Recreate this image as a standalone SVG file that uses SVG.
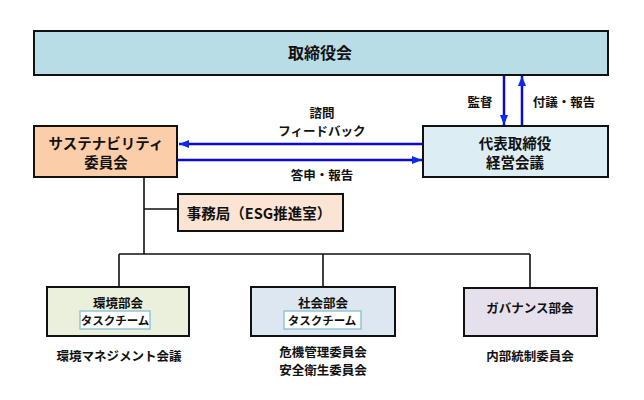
<svg xmlns="http://www.w3.org/2000/svg" width="644" height="400" viewBox="0 0 644 400">
<style>
text{font-family:"Noto Sans CJK JP","Noto Sans",sans-serif;font-weight:bold;fill:#111;text-anchor:middle;dominant-baseline:central}
.box{stroke:#111;stroke-width:2}
.t16{font-size:16px}
.t14{font-size:14.5px}
.t12{font-size:12.5px}
.t11{font-size:11.5px}
.arr{stroke:#0a0ad0;stroke-width:2.5;fill:none}
.tree{stroke:#111;stroke-width:1.6;fill:none}
.task{fill:#fff;stroke:#92c4d6;stroke-width:1.5}
</style>
<defs>
<marker id="ah" viewBox="0 0 10 8" refX="10" refY="4" markerWidth="10" markerHeight="8" markerUnits="userSpaceOnUse" orient="auto">
<path d="M0,0 L10,4 L0,8 z" fill="#0a2cf0"/>
</marker>
</defs>
<rect width="644" height="400" fill="#fff"/>
<g id="connectors">
<path class="arr" d="M504,76 V125" marker-end="url(#ah)"/>
<path class="arr" d="M522,125 V76" marker-end="url(#ah)"/>
<path class="arr" d="M423,144 H179" marker-end="url(#ah)"/>
<path class="arr" d="M178,160 H422" marker-end="url(#ah)"/>
<path class="tree" d="M144,178 V254 M144,209 H178 M119,254 H530 M119,254 V287 M323,254 V287 M530,254 V288"/>
<text class="t12" x="480" y="101">監督</text>
<text class="t12" x="564" y="101">付議・報告</text>
<text class="t12" x="322" y="112">諮問</text>
<text class="t12" x="322" y="130">フィードバック</text>
<text class="t12" x="322" y="174">答申・報告</text>
</g>
<g id="board">
<rect class="box" x="34" y="31" width="574" height="44" fill="#b9dde7"/>
<text class="t16" x="320" y="52">取締役会</text>
</g>
<g id="sustainability">
<rect class="box" x="34" y="126" width="143" height="51" fill="#fbcea9"/>
<text class="t14" x="106" y="142">サステナビリティ</text>
<text class="t14" x="106" y="161">委員会</text>
</g>
<g id="management">
<rect class="box" x="423" y="126" width="185" height="51" fill="#dcedf3"/>
<text class="t14" x="515" y="142">代表取締役</text>
<text class="t14" x="515" y="161">経営会議</text>
</g>
<g id="secretariat">
<rect class="box" x="178" y="194" width="165" height="37" fill="#fce4d4"/>
<text class="t14" x="259" y="212">事務局（ESG推進室）</text>
</g>
<g id="environment">
<rect class="box" x="47" y="287" width="142" height="49" fill="#ebf0dd"/>
<text class="t12" x="118" y="302">環境部会</text>
<rect class="task" x="80" y="311" width="70" height="18"/>
<text class="t11" x="115" y="320">タスクチーム</text>
<text class="t12" x="119" y="355">環境マネジメント会議</text>
</g>
<g id="society">
<rect class="box" x="251" y="287" width="144" height="49" fill="#dde7f2"/>
<text class="t12" x="323" y="302">社会部会</text>
<rect class="task" x="284" y="311" width="77" height="18"/>
<text class="t11" x="322" y="320">タスクチーム</text>
<text class="t12" x="323" y="351">危機管理委員会</text>
<text class="t12" x="323" y="369.5">安全衛生委員会</text>
</g>
<g id="governance">
<rect class="box" x="464" y="288" width="133" height="48" fill="#e5e0ec"/>
<text class="t12" x="530" y="307">ガバナンス部会</text>
<text class="t12" x="530" y="355">内部統制委員会</text>
</g>
</svg>
